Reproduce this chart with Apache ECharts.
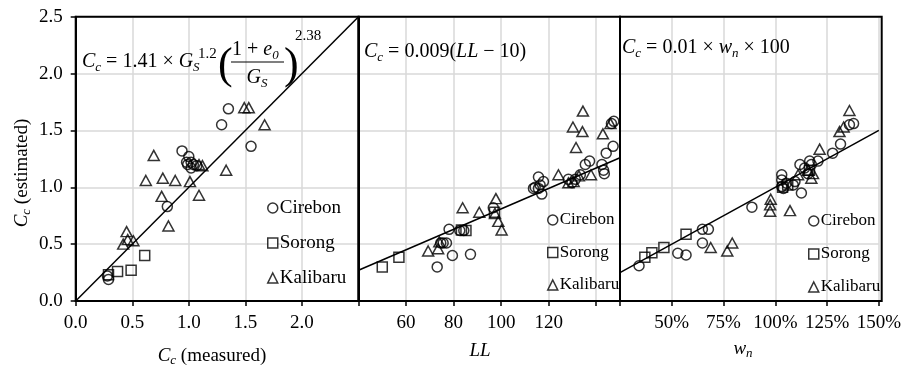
<!DOCTYPE html>
<html>
<head>
<meta charset="utf-8">
<script src="https://cdn.jsdelivr.net/npm/echarts@6/dist/echarts.min.js"></script>
<style>
html,body{margin:0;padding:0;background:#fff;}
#chart{width:904px;height:369px;}
</style>
</head>
<body>
<div id="chart"></div>
<script>
// ---------- data ----------
// Panel 1: Cc measured vs Cc estimated (Gs / e0 equation)
const p1Cirebon = [[0.28,0.22],[0.29,0.19],[0.81,0.83],[0.94,1.32],[1.00,1.27],[0.98,1.22],[0.99,1.20],[1.02,1.17],[1.04,1.20],[1.02,1.22],[1.07,1.19],[1.29,1.55],[1.35,1.69],[1.55,1.36]];
const p1Sorong = [[0.29,0.23],[0.37,0.26],[0.49,0.27],[0.61,0.40]];
const p1Kalibaru = [[0.42,0.50],[0.45,0.61],[0.46,0.54],[0.51,0.53],[0.62,1.06],[0.69,1.28],[0.76,0.92],[0.77,1.08],[0.82,0.66],[0.88,1.06],[1.01,1.05],[1.09,0.93],[1.09,1.20],[1.12,1.19],[1.33,1.15],[1.49,1.70],[1.53,1.70],[1.67,1.55]];
const p1Line = [[0,0],[2.5,2.5]];
// Panel 2: LL vs Cc
const p2Cirebon = [[73.1,0.30],[74.6,0.51],[75.6,0.51],[77,0.51],[78.1,0.63],[79.5,0.40],[82.6,0.62],[84.3,0.62],[87.1,0.41],[96.7,0.82],[113.6,0.99],[114.3,1.0],[115.7,0.99],[116.4,1.02],[117.8,1.05],[115.7,1.09],[117.1,0.94],[128.3,1.07],[129.8,1.04],[131.2,1.07],[133.3,1.11],[135.4,1.20],[137.2,1.23],[142.4,1.20],[143.1,1.15],[143.4,1.12],[144.2,1.30],[147.1,1.36],[146.4,1.56],[147.4,1.58]];
const p2Sorong = [[50,0.30],[57,0.385],[83.3,0.625],[85.2,0.62],[97.2,0.78]];
const p2Kalibaru = [[69.3,0.44],[73.5,0.46],[74,0.52],[83.8,0.82],[90.8,0.78],[97.8,0.90],[97.4,0.77],[98.8,0.70],[100.2,0.625],[124.1,1.11],[128.3,1.04],[130.5,1.05],[132.7,1.10],[137.8,1.11],[131.5,1.35],[130.2,1.53],[134.2,1.49],[134.4,1.67],[142.8,1.47],[146,1.56]];
const p2Line = [[40,0.27],[150,1.26]];
// Panel 3: wn (%) vs Cc
const p3Cirebon = [[34.2,0.31],[52.9,0.42],[56.9,0.405],[64.8,0.51],[64.8,0.63],[67.7,0.63],[88.7,0.825],[103.1,1.11],[103.1,1.065],[103.1,1.006],[103.9,0.99],[105.4,1.036],[108.7,1.02],[109.5,1.05],[111.9,1.20],[112.6,0.95],[114.2,1.17],[115.8,1.12],[116.6,1.23],[117.4,1.20],[120.6,1.23],[127.7,1.30],[131.5,1.38],[135.8,1.55],[137.8,1.56]];
const p3Sorong = [[37,0.385],[40.4,0.425],[46.2,0.47],[56.9,0.587],[103.5,1.0],[106,1.02],[116.5,1.15]];
const p3Kalibaru = [[68.8,0.47],[76.8,0.44],[79.2,0.51],[97.5,0.79],[97.5,0.845],[97.8,0.895],[107.1,0.795],[111,1.11],[115.8,1.15],[117.4,1.08],[118.2,1.12],[121.4,1.335],[131,1.49],[133,1.53],[135.8,1.675]];
const p3Line = [[25,0.25],[150,1.5]];

const seriesNames = ['Cirebon','Sorong','Kalibaru'];
const yTicks = [0,0.5,1.0,1.5,2.0,2.5];

// ---------- styling ----------
const FONT = 'Liberation Serif';
const chart = echarts.init(document.getElementById('chart'), null, {renderer:'canvas'});

const gridBoxes = [
  {left:75.7, top:16.7, width:282.8, height:284.3},
  {left:358.5, top:16.7, width:261.5, height:284.3},
  {left:620, top:16.7, width:261.7, height:284.3}
];
const grids = gridBoxes.map(g => Object.assign({}, g, {show:false, containLabel:false}));

const splitLine = {show:true, lineStyle:{color:'#d9d9d9', width:1.5}};
const axisLine = {show:true, onZero:false, lineStyle:{color:'#000', width:2}};
const labelStyle = {color:'#000', fontFamily:FONT, fontSize:19, margin:13};

const xAxes = [
  {gridIndex:0, type:'value', min:0, max:2.5, interval:0.5,
   axisLabel:Object.assign({}, labelStyle, {formatter:v => v >= 2.5 ? '' : v.toFixed(1)})},
  {gridIndex:1, type:'value', min:40, max:150, interval:20,
   axisLabel:Object.assign({}, labelStyle, {formatter:v => (v >= 60 && v <= 120) ? String(v) : ''})},
  {gridIndex:2, type:'value', min:25, max:150, interval:25,
   axisLabel:Object.assign({}, labelStyle, {formatter:v => v >= 50 ? v + '%' : ''})}
].map(a => Object.assign(a, {axisLine, splitLine, axisTick:{show:true, length:5, lineStyle:{color:'#000', width:1.5}}}));

const yAxes = [0,1,2].map(i => ({
  gridIndex:i, type:'value', min:yTicks[0], max:yTicks[yTicks.length-1], interval:0.5,
  axisLine, splitLine,
  axisTick:{show:i === 0, length:5, lineStyle:{color:'#000', width:1.5}},
  axisLabel: i === 0 ? Object.assign({}, labelStyle, {formatter:v => v.toFixed(1)}) : {show:false}
}));

const markerStyle = {color:'rgba(0,0,0,0)', borderColor:'#000', borderWidth:1.5};
const symbols = {Cirebon:['circle',10], Sorong:['rect',10], Kalibaru:['triangle',[11,10]]};
const panelData = [
  [p1Cirebon, p1Sorong, p1Kalibaru, p1Line],
  [p2Cirebon, p2Sorong, p2Kalibaru, p2Line],
  [p3Cirebon, p3Sorong, p3Kalibaru, p3Line]
];
const series = [];
panelData.forEach((pd, i) => {
  series.push({type:'line', xAxisIndex:i, yAxisIndex:i, data:pd[3], symbol:'none', silent:true,
    lineStyle:{color:'#000', width:1.5}, z:3});
  seriesNames.forEach((nm, k) => {
    series.push({type:'scatter', name:nm, xAxisIndex:i, yAxisIndex:i, data:pd[k],
      symbol:symbols[nm][0], symbolSize:symbols[nm][1], itemStyle:markerStyle, z:4});
  });
});

function legendAt(left, top, fontSize, gap) {
  return {
    left, top, orient:'vertical', padding:0, itemGap:gap, itemWidth:10, itemHeight:10,
    selectedMode:false,
    data:[{name:'Cirebon', icon:'circle'},{name:'Sorong', icon:'rect'},{name:'Kalibaru', icon:'triangle'}],
    itemStyle:{color:'#fff', borderColor:'#000', borderWidth:1.5},
    textStyle:{fontFamily:FONT, fontSize, color:'#000', lineHeight:fontSize+1, padding:[0,0,0,-3]}
  };
}

const mainR = {fontFamily:FONT, fontSize:20, lineHeight:24, color:'#000'};
const itR = {fontFamily:FONT, fontSize:20, lineHeight:24, fontStyle:'italic', color:'#000'};
const subR = {fontFamily:FONT, fontSize:13, lineHeight:12, fontStyle:'italic', color:'#000', verticalAlign:'bottom'};
const supR = {fontFamily:FONT, fontSize:15, lineHeight:15, color:'#000', verticalAlign:'top'};
const rich = {n:mainR, i:itR, s:subR, p:supR};

function txt(x, y, text, opts) {
  return Object.assign({type:'text', x, y, silent:true, z:10,
    style:{text, rich, fill:'#000', font:'20px ' + FONT, align:'left', verticalAlign:'middle'}}, opts || {});
}

const axisRich = {
  n:{fontFamily:FONT, fontSize:19, lineHeight:22, color:'#000'},
  i:{fontFamily:FONT, fontSize:19, lineHeight:22, fontStyle:'italic', color:'#000'},
  s:{fontFamily:FONT, fontSize:13, lineHeight:12, fontStyle:'italic', color:'#000', verticalAlign:'bottom'}
};
function atxt(x, y, text, extra) {
  return Object.assign({type:'text', x, y, silent:true, z:10,
    style:{text, rich:axisRich, fill:'#000', font:'19px ' + FONT, align:'center', verticalAlign:'middle'}}, extra || {});
}

const graphic = [
  // panel 1 equation
  txt(82, 62, '{i|C}{s|c}{n| = 1.41 × }{i|G}{s|S}'),
  txt(198, 54, '{p|1.2}'),
  {type:'text', x:218, y:66, silent:true, z:10, style:{text:'(', font:'44px ' + FONT, fill:'#000', align:'left', verticalAlign:'middle'}},
  txt(232, 50, '{n|1 + }{i|e}{s|0}'),
  {type:'line', silent:true, z:10, shape:{x1:231, y1:62, x2:284, y2:62}, style:{stroke:'#000', lineWidth:1.2}},
  txt(257, 78, '{i|G}{s|S}', {style:{text:'{i|G}{s|S}', rich, fill:'#000', align:'center', verticalAlign:'middle'}}),
  {type:'text', x:284, y:66, silent:true, z:10, style:{text:')', font:'44px ' + FONT, fill:'#000', align:'left', verticalAlign:'middle'}},
  txt(295, 36, '{p|2.38}'),
  // panel 2 equation
  txt(364, 52, '{i|C}{s|c}{n| = 0.009(}{i|LL}{n| − 10)}'),
  // panel 3 equation
  txt(622, 48, '{i|C}{s|c}{n| = 0.01 × }{i|w}{s|n}{n| × 100}'),
  // axis titles
  atxt(212, 356, '{i|C}{s|c}{n| (measured)}'),
  atxt(480, 351, '{i|LL}'),
  atxt(743, 349, '{i|w}{s|n}'),
  atxt(22, 173, '{i|C}{s|c}{n| (estimated)}', {rotation:Math.PI/2})
];
// panel frames (black borders on top of grid lines)
gridBoxes.forEach(g => {
  graphic.push({type:'rect', silent:true, z:5,
    shape:{x:g.left, y:g.top, width:g.width, height:g.height},
    style:{fill:'none', stroke:'#000', lineWidth:2}});
});

chart.setOption({
  animation:false,
  backgroundColor:'#fff',
  grid:grids,
  xAxis:xAxes,
  yAxis:yAxes,
  legend:[legendAt(267, 198, 19, 15), legendAt(547, 211, 17, 14.5), legendAt(808, 212, 17, 15)],
  series,
  graphic
});
</script>
</body>
</html>
